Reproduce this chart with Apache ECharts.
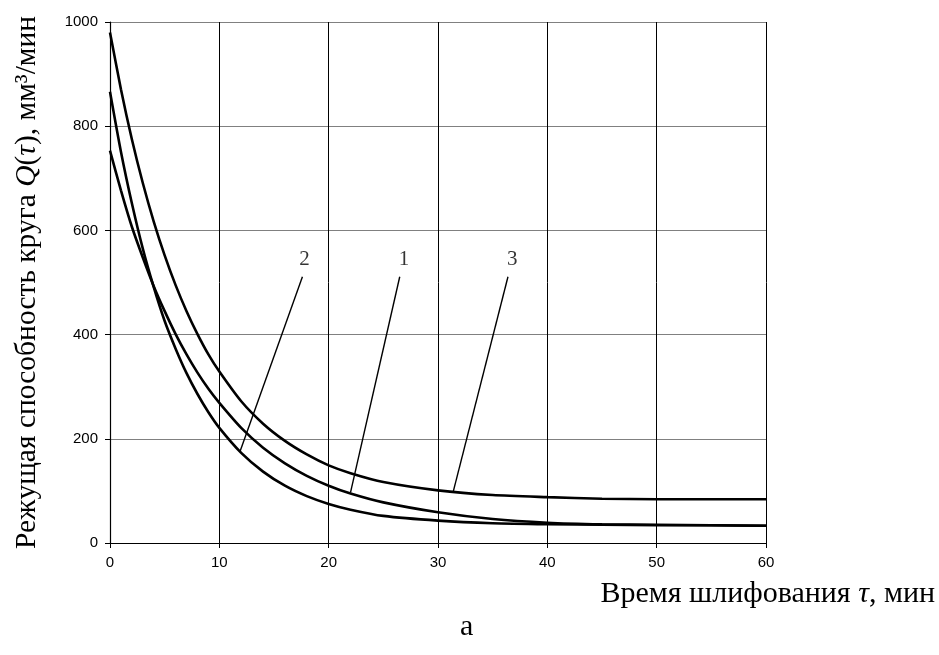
<!DOCTYPE html>
<html>
<head>
    <meta http-equiv="Content-Type" content="text/html; charset=utf-8" />
    <title>Режущая способность круга</title>
    <style type="text/css">
        body, html {width: 100%;height: 100%;margin:0;background:#fff;}
        #chart{width:939px;height:655px;}
    </style>
    <script src="https://cdn.jsdelivr.net/npm/echarts@6/dist/echarts.min.js"></script>
</head>
<body>
<div id="chart"></div>
<script type="text/javascript">
    // время шлифования, мин
    var tau = [0, 1, 2, 3, 4, 5, 6, 7, 8, 9, 10, 12, 14, 16, 18, 20, 22, 25, 30, 35, 40, 45, 50, 55, 60];
    // кривые 1, 2, 3 (мм3/мин)
    var q1 = [753, 677, 607, 548, 493, 445, 401, 362, 327, 296, 269, 221, 183, 153, 129, 110, 95, 78, 59, 46, 39, 36, 35, 34, 33];
    var q2 = [866, 751, 652, 565, 491, 426, 373, 326, 286, 251, 221, 173, 137, 110, 90, 75, 64, 52, 43, 38, 36, 35, 34, 34, 33];
    var q3 = [980, 871, 775, 691, 617, 552, 495, 445, 401, 362, 329, 272, 229, 196, 170, 149, 134, 117, 101, 92, 88, 85, 84, 84, 84];
    var yTicks = [0, 200, 400, 600, 800, 1000];
    var xTicks = [0, 10, 20, 30, 40, 50, 60];

    // выноски с номерами кривых
    var curveNames = ['1', '2', '3'];
    var labelPos = [[26.9, 545], [17.8, 545], [36.8, 545]];
    var leaders = [
        [[26.5, 511], [22.0, 97]],
        [[17.6, 511], [11.9, 176]],
        [[36.4, 511], [31.4, 99]]
    ];

    function pairs(xs, ys) {
        var out = [];
        for (var i = 0; i < xs.length; i++) out.push([xs[i], ys[i]]);
        return out;
    }

    var chart = echarts.init(document.getElementById('chart'));
    var curveStyle = {color: '#000', width: 2.6};
    var series = [];
    [q1, q2, q3].forEach(function (q, i) {
        series.push({
            name: curveNames[i], type: 'line', data: pairs(tau, q),
            smooth: 0.25, showSymbol: false, symbol: 'none',
            lineStyle: curveStyle, z: 5
        });
        series.push({
            type: 'line', data: leaders[i], showSymbol: false, symbol: 'none',
            lineStyle: {color: '#000', width: 1.4}, z: 4
        });
    });
    series.push({
        type: 'scatter', symbolSize: 0,
        data: labelPos.map(function (p, i) { return {value: p, name: curveNames[i]}; }),
        label: {
            show: true, position: 'inside', formatter: '{b}',
            fontFamily: 'Liberation Serif', fontSize: 21, color: '#000',
            textBorderWidth: 0
        }
    });

    var option = {
        animation: false,
        backgroundColor: '#fff',
        grid: {left: 110, right: 173, top: 22, bottom: 112},
        xAxis: {
            type: 'value', min: 0, max: 60, interval: 10,
            axisLine: {lineStyle: {color: '#000', width: 1.2}},
            axisTick: {show: true, length: 5, lineStyle: {color: '#000'}},
            axisLabel: {
                margin: 12, color: '#000', fontFamily: 'Liberation Sans', fontSize: 15,
                formatter: function (v) { return xTicks.indexOf(v) >= 0 ? String(v) : ''; }
            },
            splitLine: {show: true, lineStyle: {color: '#000', width: 1}}
        },
        yAxis: {
            type: 'value', min: 0, max: 1000, interval: 200,
            axisLine: {show: true, lineStyle: {color: '#000', width: 1.2}},
            axisTick: {show: true, length: 5, lineStyle: {color: '#000'}},
            axisLabel: {
                margin: 12, color: '#000', fontFamily: 'Liberation Sans', fontSize: 15,
                formatter: function (v) { return yTicks.indexOf(v) >= 0 ? String(v) : ''; }
            },
            splitLine: {show: true, lineStyle: {color: '#808080', width: 1.2}},
            name: '{a|Режущая способность круга }{i|Q}{a|(}{i|τ}{a|), мм³/мин}',
            nameLocation: 'middle', nameGap: 68, nameRotate: 90,
            nameTextStyle: {
                rich: {
                    a: {fontFamily: 'Liberation Serif', fontSize: 29.5, color: '#000'},
                    i: {fontFamily: 'Liberation Serif', fontSize: 29.5, fontStyle: 'italic', color: '#000'}
                }
            }
        },
        graphic: [
            {
                type: 'text', right: 4, top: 579,
                style: {
                    rich: {
                        a: {fontFamily: 'Liberation Serif', fontSize: 30, fill: '#000'},
                        i: {fontFamily: 'Liberation Serif', fontSize: 30, fontStyle: 'italic', fill: '#000'}
                    },
                    text: '{a|Время шлифования }{i|τ}{a|, мин}'
                }
            },
            {
                type: 'text', left: 460, top: 612,
                style: {text: 'а', fontFamily: 'Liberation Serif', fontSize: 30, fill: '#000'}
            }
        ],
        series: series
    };
    chart.setOption(option);
</script>
</body>
</html>
